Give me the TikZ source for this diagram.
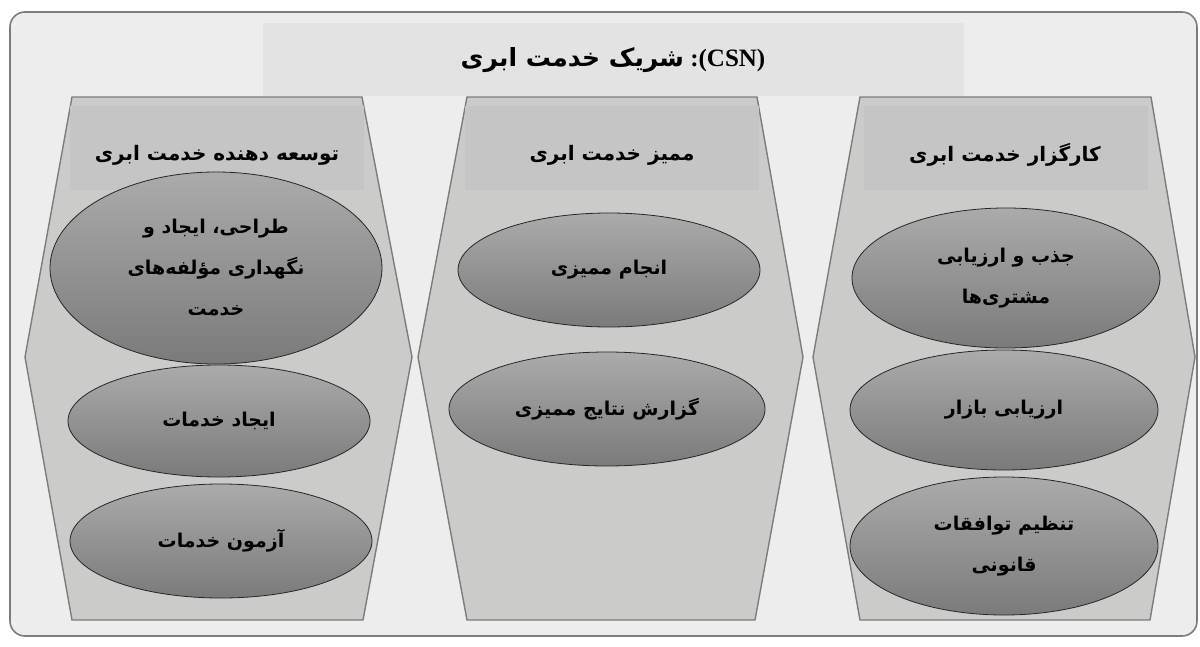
\documentclass[tikz,border=0pt]{standalone}
\usepackage{fontspec}
\usepackage{tikz}
\usetikzlibrary{shapes.geometric}

\setmainfont{Liberation Serif}
\newfontfamily\farsifont[Script=Arabic]{DejaVu Sans}
\TeXXeTstate=1
\newcommand{\fa}[1]{{\farsifont\bfseries\beginR #1\endR}}

\definecolor{pagebg}{HTML}{EDEDED}
\definecolor{bandbg}{HTML}{E3E3E3}
\definecolor{colbg}{HTML}{CBCCC9}
\definecolor{headbg}{HTML}{C5C5C5}
\definecolor{edgegray}{HTML}{7C7C7C}

\begin{document}
\begin{tikzpicture}
    [
      x=1pt, y=-1pt,
      frame/.style={draw=edgegray,line width=1.6pt,fill=pagebg,rounded corners=15pt},
      column/.style={draw=edgegray,line width=1.4pt,fill=colbg},
      task/.style={ellipse,draw=black!85,line width=0.8pt,inner sep=0pt,
        top color=black!33,bottom color=black!52,align=center,
        font=\fontsize{19}{41}\selectfont},
      header/.style={font=\fontsize{20}{24}\selectfont},
    ]

    \useasboundingbox (0,0) rectangle (1200,646);
    \draw [frame] (10,12) rectangle (1197,636);
    \fill [bandbg] (263,23) rectangle (964,96);

    % the three actors
    \draw [column] (72,97) -- (362,97) -- (412,357) -- (363,620) -- (72,620) -- (25,357) -- cycle;
    \draw [column] (467,97) -- (757,97) -- (803,357) -- (755,620) -- (467,620) -- (418,357) -- cycle;
    \draw [column] (860,97) -- (1151,97) -- (1195,357) -- (1150,620) -- (860,620) -- (813,357) -- cycle;
    \fill [headbg] (70,106) rectangle (364,190);
    \fill [headbg] (465,106) rectangle (759,190);
    \fill [headbg] (864,106) rectangle (1148,190);

    \node (title) at (613,60) {\fontsize{25}{28}\selectfont\fa{شریک خدمت ابری} {\bfseries :(CSN)}};

    \node (developer) [header] at (217,155) {\fa{توسعه دهنده خدمت ابری}};
    \node (auditor) [header] at (612,155) {\fa{ممیز خدمت ابری}};
    \node (broker) [header] at (1005,155) {\fa{کارگزار خدمت ابری}};

    \node (design) [task,minimum width=332pt,minimum height=192pt] at (216,268)
      {\fa{طراحی، ایجاد و}\\\fa{نگهداری مؤلفه^^^^200cهای}\\\fa{خدمت}};
    \node (create) [task,minimum width=302pt,minimum height=112pt] at (219,421) {\fa{ایجاد خدمات}};
    \node (test) [task,minimum width=302pt,minimum height=114pt] at (221,541) {\fa{آزمون خدمات}};

    \node (audit) [task,minimum width=302pt,minimum height=114pt] at (609,270) {\fa{انجام ممیزی}};
    \node (report) [task,minimum width=316pt,minimum height=114pt] at (607,409) {\fa{گزارش نتایج ممیزی}};

    \node (attract) [task,minimum width=308pt,minimum height=140pt] at (1006,278)
      {\fa{جذب و ارزیابی}\\\fa{مشتری^^^^200cها}};
    \node (market) [task,minimum width=308pt,minimum height=120pt] at (1004,410) {\fa{ارزیابی بازار}};
    \node (legal) [task,minimum width=308pt,minimum height=138pt] at (1004,546)
      {\fa{تنظیم توافقات}\\\fa{قانونی}};

  \end{tikzpicture}
\end{document}
